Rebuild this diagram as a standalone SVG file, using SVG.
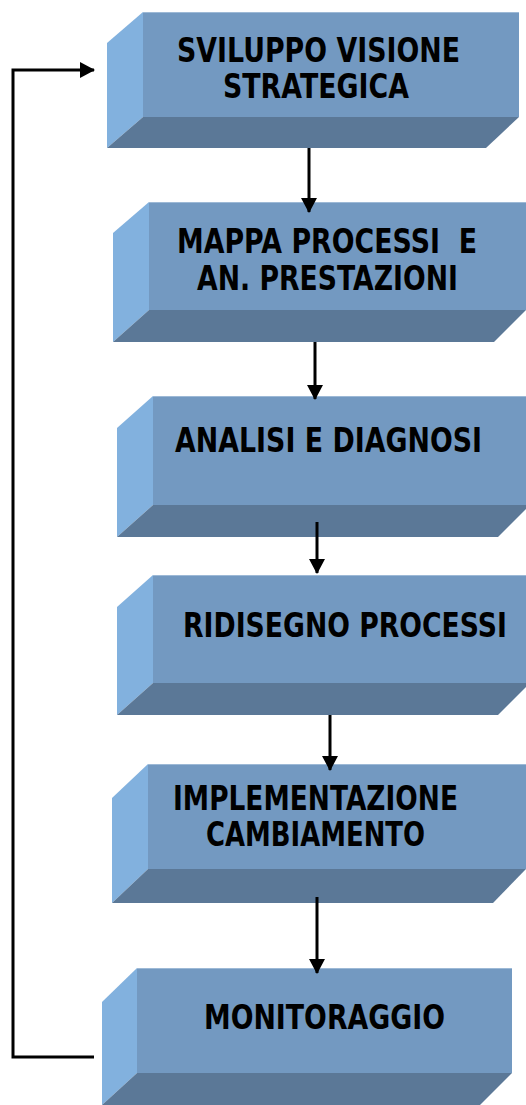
<svg xmlns="http://www.w3.org/2000/svg" width="526" height="1105" viewBox="0 0 526 1105">
<defs>
<style>
.front{fill:#7399C1}
.left{fill:#82B1DE}
.bottom{fill:#5B7897}
.edge{stroke:#9DB9D6;stroke-width:1}
.lbl{font-family:"DejaVu Sans","Liberation Sans",sans-serif;font-weight:bold;font-size:27px;fill:#000}
.conn{stroke:#000;stroke-width:3;fill:none}
</style>
<marker id="ah" markerUnits="userSpaceOnUse" markerWidth="16" markerHeight="16" viewBox="0 0 16 16" refX="14" refY="8" orient="auto">
<path d="M0,0 L15,8 L0,16 Z" fill="#000"/>
</marker>
</defs>
<rect width="526" height="1105" fill="#fff"/>

<g id="n1">
<rect class="front" x="143" y="12" width="376" height="105"/>
<line class="edge" x1="143" y1="12.5" x2="519" y2="12.5"/>
<polygon class="left" points="107,43 143,12 143,117 107,148"/>
<polygon class="bottom" points="107,148 143,117 519,117 486,148"/>
<text class="lbl" transform="translate(177,62) scale(1,1.22)" textLength="283" lengthAdjust="spacingAndGlyphs">SVILUPPO VISIONE</text>
<text class="lbl" transform="translate(223,98) scale(1,1.22)" textLength="186" lengthAdjust="spacingAndGlyphs">STRATEGICA</text>
</g>

<g id="n2">
<rect class="front" x="149" y="202" width="377" height="108"/>
<line class="edge" x1="149" y1="202.5" x2="526" y2="202.5"/>
<polygon class="left" points="113,233 149,202 149,310 113,342"/>
<polygon class="bottom" points="113,342 149,310 526,310 494,342"/>
<text class="lbl" transform="translate(177,253) scale(1,1.22)" textLength="300" lengthAdjust="spacingAndGlyphs" xml:space="preserve">MAPPA PROCESSI  E</text>
<text class="lbl" transform="translate(197,290) scale(1,1.22)" textLength="261" lengthAdjust="spacingAndGlyphs">AN. PRESTAZIONI</text>
</g>

<g id="n3">
<rect class="front" x="153" y="396" width="373" height="109"/>
<line class="edge" x1="153" y1="396.5" x2="526" y2="396.5"/>
<polygon class="left" points="117,428 153,396 153,505 117,537"/>
<polygon class="bottom" points="117,537 153,505 526,505 526,509 498,537"/>
<text class="lbl" transform="translate(175,452) scale(1,1.22)" textLength="307" lengthAdjust="spacingAndGlyphs">ANALISI E DIAGNOSI</text>
</g>

<g id="n4">
<rect class="front" x="153" y="575" width="373" height="108"/>
<line class="edge" x1="153" y1="575.5" x2="526" y2="575.5"/>
<polygon class="left" points="117,607 153,575 153,683 117,715"/>
<polygon class="bottom" points="117,715 153,683 526,683 526,687 498,715"/>
<text class="lbl" transform="translate(183,637) scale(1,1.22)" textLength="324" lengthAdjust="spacingAndGlyphs">RIDISEGNO PROCESSI</text>
</g>

<g id="n5">
<rect class="front" x="148" y="764" width="378" height="105"/>
<line class="edge" x1="148" y1="764.5" x2="526" y2="764.5"/>
<polygon class="left" points="112,798 148,764 148,869 112,903"/>
<polygon class="bottom" points="112,903 148,869 526,869 493,903"/>
<text class="lbl" transform="translate(173,810) scale(1,1.22)" textLength="285" lengthAdjust="spacingAndGlyphs">IMPLEMENTAZIONE</text>
<text class="lbl" transform="translate(206,846) scale(1,1.22)" textLength="219" lengthAdjust="spacingAndGlyphs">CAMBIAMENTO</text>
</g>

<g id="n6">
<rect class="front" x="137" y="968" width="375" height="105"/>
<line class="edge" x1="137" y1="968.5" x2="512" y2="968.5"/>
<polygon class="left" points="102,1002 137,968 137,1073 102,1105"/>
<polygon class="bottom" points="102,1105 137,1073 512,1073 480,1105"/>
<text class="lbl" transform="translate(204,1029) scale(1,1.22)" textLength="241" lengthAdjust="spacingAndGlyphs">MONITORAGGIO</text>
</g>

<g id="connectors">
<line class="conn" x1="309" y1="148" x2="309" y2="212" marker-end="url(#ah)"/>
<line class="conn" x1="315" y1="342" x2="315" y2="399" marker-end="url(#ah)"/>
<line class="conn" x1="317" y1="522" x2="317" y2="573" marker-end="url(#ah)"/>
<line class="conn" x1="330" y1="715" x2="330" y2="770" marker-end="url(#ah)"/>
<line class="conn" x1="317" y1="897" x2="317" y2="973" marker-end="url(#ah)"/>
<polyline class="conn" points="94,1057 13,1057 13,70 94,70" marker-end="url(#ah)"/>
</g>
</svg>
